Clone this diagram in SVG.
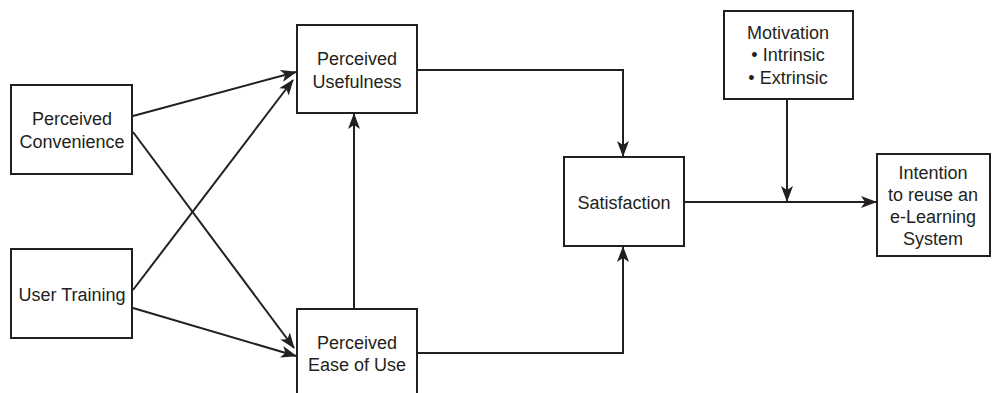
<svg xmlns="http://www.w3.org/2000/svg" width="992" height="393" viewBox="0 0 992 393">
<style>
.box{fill:#fff;stroke:#231f20;stroke-width:2}
.t{font-family:"Liberation Sans",Arial,sans-serif;font-size:18px;fill:#231f20;text-anchor:middle}
.c{fill:none;stroke:#231f20;stroke-width:2;marker-end:url(#ah)}
</style>
<defs>
<marker id="ah" markerUnits="userSpaceOnUse" markerWidth="16" markerHeight="12" viewBox="0 0 16 12" refX="15" refY="6" orient="auto">
<path d="M0,0 L16,6 L0,12 L4,6 z" fill="#231f20"/>
</marker>
</defs>
<rect width="992" height="393" fill="#fff"/>
<g id="connectors">
<line class="c" x1="133" y1="116" x2="296" y2="72"/>
<line class="c" x1="133" y1="132" x2="294" y2="348"/>
<line class="c" x1="133" y1="290" x2="293" y2="80"/>
<line class="c" x1="133" y1="308" x2="296" y2="356"/>
<line class="c" x1="354" y1="309" x2="354" y2="114"/>
<polyline class="c" points="417,70 623,70 623,156"/>
<polyline class="c" points="417,353 623,353 623,247"/>
<line class="c" x1="684" y1="202" x2="876" y2="202"/>
<line class="c" x1="787" y1="99" x2="787" y2="201"/>
</g>
<g id="perceived-convenience">
<rect class="box" x="11" y="85" width="121" height="89"/>
<text class="t" x="72" y="125">Perceived</text>
<text class="t" x="72" y="148">Convenience</text>
</g>
<g id="user-training">
<rect class="box" x="11" y="249" width="121" height="89"/>
<text class="t" x="72" y="301">User Training</text>
</g>
<g id="perceived-usefulness">
<rect class="box" x="297" y="25" width="120" height="88"/>
<text class="t" x="357" y="65">Perceived</text>
<text class="t" x="357" y="88">Usefulness</text>
</g>
<g id="perceived-ease-of-use">
<rect class="box" x="297" y="309" width="120" height="95"/>
<text class="t" x="357" y="349">Perceived</text>
<text class="t" x="357" y="371">Ease of Use</text>
</g>
<g id="satisfaction">
<rect class="box" x="564" y="157" width="120" height="89"/>
<text class="t" x="624" y="209">Satisfaction</text>
</g>
<g id="motivation">
<rect class="box" x="724" y="11" width="129" height="88"/>
<text class="t" x="788" y="39">Motivation</text>
<text class="t" x="788" y="61">• Intrinsic</text>
<text class="t" x="788" y="84">• Extrinsic</text>
</g>
<g id="intention">
<rect class="box" x="877" y="154" width="113" height="102"/>
<text class="t" x="933" y="179">Intention</text>
<text class="t" x="933" y="201">to reuse an</text>
<text class="t" x="933" y="223">e-Learning</text>
<text class="t" x="933" y="245">System</text>
</g>
</svg>
